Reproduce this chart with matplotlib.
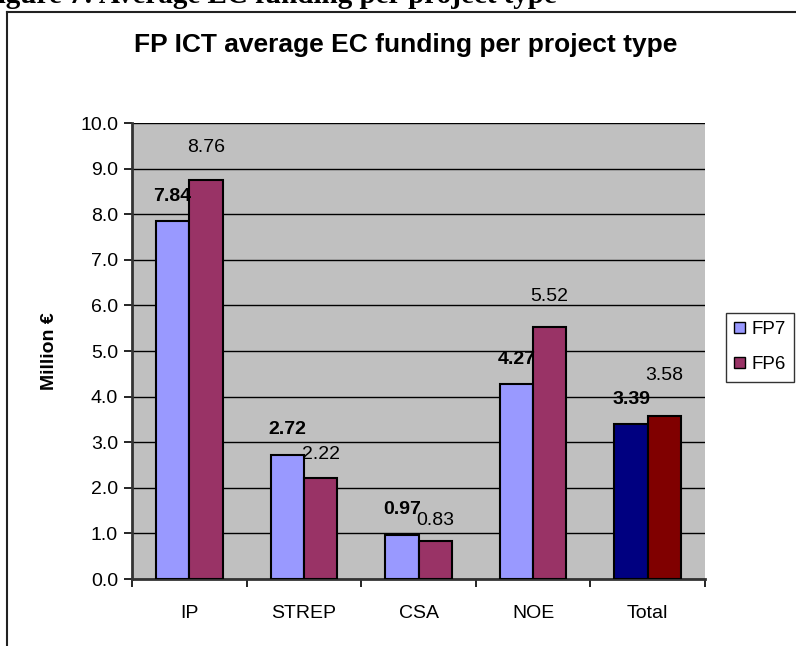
import numpy as np
import matplotlib.pyplot as plt
from matplotlib.patches import Patch

categories = ["IP", "STREP", "CSA", "NOE", "Total"]
fp7 = [7.84, 2.72, 0.97, 4.27, 3.39]
fp6 = [8.76, 2.22, 0.83, 5.52, 3.58]
yticks = np.arange(0, 10.5, 1.0)

fp7_color = ["#9999FF"] * 4 + ["#000080"]
fp6_color = ["#993366"] * 4 + ["#800000"]

# label offsets (points above the bar top) - labels were placed by hand in the original
fp7_offset = [18, 18, 18, 18, 18]
fp6_offset = [23, 17, 15, 22, 29]

plt.rcParams['font.family'] = ['Liberation Sans', 'DejaVu Sans']

fig = plt.figure(figsize=(7.96, 6.46), dpi=100)
W, H = 796, 646

# document caption cut off at the top of the picture
fig.text(-20 / W, 1 - 3 / H, "Figure 7: Average EC funding per project type",
         family=['Liberation Serif', 'DejaVu Serif'], fontweight='bold',
         fontsize=21, ha='left', va='baseline')

# outer chart frame (cropped on right and bottom)
fig.add_artist(plt.Line2D([7 / W, 7 / W], [0, 1 - 12 / H], color='#222222', lw=1.5))
fig.add_artist(plt.Line2D([7 / W, 1], [1 - 12 / H, 1 - 12 / H], color='#222222', lw=1.5))

left, right, top, bottom = 132, 705, 123, 579
ax = fig.add_axes([left / W, 1 - bottom / H, (right - left) / W, (bottom - top) / H])
ax.set_facecolor('#C0C0C0')

x = np.arange(len(categories))
w = 0.29
ax.bar(x - w / 2, fp7, w, color=fp7_color, edgecolor='black', linewidth=1.5, zorder=3)
ax.bar(x + w / 2, fp6, w, color=fp6_color, edgecolor='black', linewidth=1.5, zorder=3)

for xi, v, off in zip(x, fp7, fp7_offset):
    ax.annotate(f"{v:.2f}", (xi - w / 2, v), xytext=(0, off), textcoords='offset points',
                ha='center', va='center', fontsize=14, fontweight='bold', zorder=4)
for xi, v, off in zip(x, fp6, fp6_offset):
    ax.annotate(f"{v:.2f}", (xi + w / 2, v), xytext=(0, off), textcoords='offset points',
                ha='center', va='center', fontsize=14, zorder=4)

ax.set_xlim(-0.5, len(categories) - 0.5)
ax.set_ylim(0, 10)
ax.set_yticks(yticks)
ax.set_yticklabels([f"{t:.1f}" for t in yticks], fontsize=14)
ax.yaxis.grid(True, color='black', linewidth=1)
ax.set_axisbelow(True)

ax.set_xticks(x)
ax.set_xticklabels(categories, fontsize=14)
ax.set_xticks(np.arange(-0.5, len(categories)), minor=True)
ax.tick_params(axis='x', which='major', length=0, pad=19)
ax.tick_params(axis='x', which='minor', length=6, width=1.2, direction='out')
ax.tick_params(axis='y', length=6, width=1.2, pad=4)

for s in ['top', 'right']:
    ax.spines[s].set_visible(False)
ax.spines['left'].set_color('#333333')
ax.spines['left'].set_linewidth(2)
ax.spines['bottom'].set_color('#333333')
ax.spines['bottom'].set_linewidth(2)

ax.set_ylabel("Million €", fontsize=14, fontweight='bold', labelpad=16)

fig.text(406 / W, 1 - 45 / H, "FP ICT average EC funding per project type",
         fontsize=19, fontweight='bold', ha='center', va='center')

handles = [Patch(facecolor="#9999FF", edgecolor='black'),
           Patch(facecolor="#993366", edgecolor='black')]
leg = fig.legend(handles, ["FP7", "FP6"], loc='upper left',
                 bbox_to_anchor=(726 / W, 1 - 313 / H), fontsize=13.5, frameon=True,
                 fancybox=False, edgecolor='black', handlelength=0.55, handleheight=0.55,
                 handletextpad=0.35, borderpad=0.45, borderaxespad=0, labelspacing=0.95)
leg.get_frame().set_linewidth(1)

fig.savefig("out.png", dpi=100)
